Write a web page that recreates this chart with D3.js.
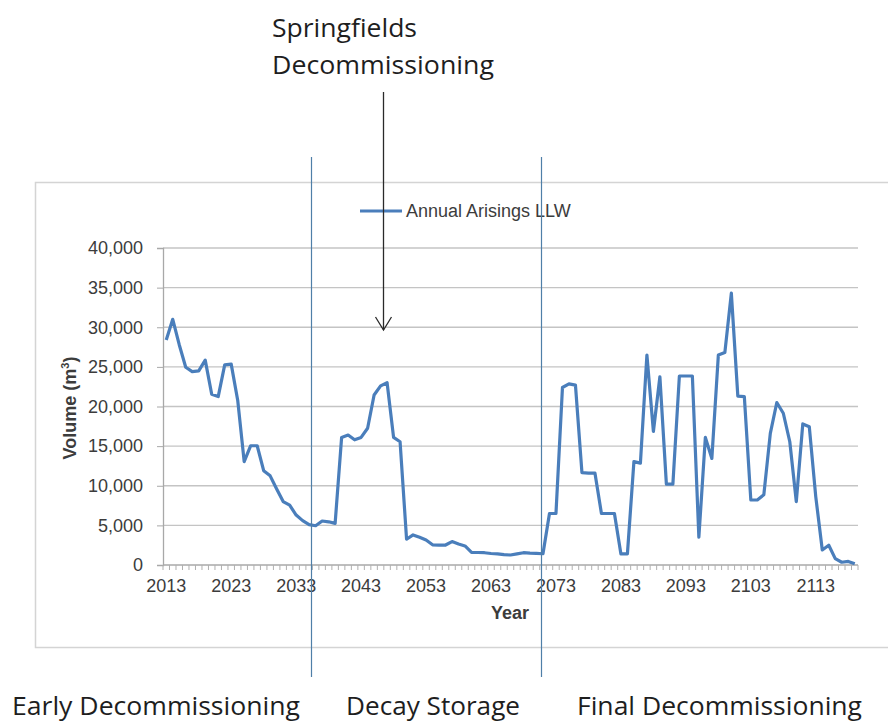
<!DOCTYPE html>
<html>
<head>
<meta charset="utf-8">
<script src="https://cdn.jsdelivr.net/npm/d3@7/dist/d3.min.js"></script>
<style>
  html, body { margin: 0; padding: 0; background: #fff; }
  svg { display: block; }
</style>
</head>
<body>
<svg id="chart" width="888" height="724"></svg>
<script>
// Annual arisings of low level waste (LLW), m³ per year
const years = d3.range(2013, 2120);
const volumes = [
  28400, 31000, 27800, 24950, 24400, 24500, 25850, 21550, 21250, 25250,
  25350, 20800, 13050, 15050, 15050, 11900, 11250, 9600, 8000, 7550,
  6300, 5600, 5100, 4950, 5550, 5450, 5250, 16100, 16400, 15800,
  16100, 17250, 21450, 22600, 23000, 16100, 15550, 3250, 3800, 3500,
  3150, 2550, 2520, 2520, 2950, 2650, 2400, 1600, 1580, 1550,
  1450, 1400, 1300, 1260, 1400, 1550, 1500, 1470, 1420, 6500,
  6500, 22400, 22850, 22700, 11650, 11600, 11600, 6500, 6500, 6500,
  1400, 1400, 13050, 12850, 26500, 16850, 23750, 10200, 10200, 23850,
  23850, 23850, 3500, 16100, 13450, 26500, 26800, 34300, 21300, 21250,
  8200, 8200, 8850, 16600, 20500, 19150, 15550, 8000, 17800, 17450,
  8600, 1900, 2500, 800, 350, 450, 150
];
const yTicks = [0, 5000, 10000, 15000, 20000, 25000, 30000, 35000, 40000];
const xLabelYears = [2013, 2023, 2033, 2043, 2053, 2063, 2073, 2083, 2093, 2103, 2113];
const seriesName = "Annual Arisings LLW";

// Phase boundaries (in years) and phase names
const phaseBounds = [2035.3, 2070.7];
const phaseLabels = ["Early Decommissioning", "Decay Storage", "Final Decommissioning"];
const eventYear = 2046.4;
const eventLabel = ["Springfields", "Decommissioning"];

const data = years.map((yr, i) => ({ year: yr, value: volumes[i] }));

const svg = d3.select("#chart");
const plot = { left: 163, right: 858, top: 248, bottom: 565 };

const x = d3.scaleBand().domain(years).range([plot.left, plot.right]).padding(0);
const bw = x.bandwidth();
const cx = yr => x(yr) + bw / 2;
const xYear = d3.scaleLinear()
  .domain([years[0], years[years.length - 1]])
  .range([cx(years[0]), cx(years[years.length - 1])]);
const y = d3.scaleLinear().domain([0, 40000]).range([plot.bottom, plot.top]);

const textCol = "#3c3c3c";
const axisFont = "Arial, 'Liberation Sans', sans-serif";

// Chart frame
svg.append("rect")
  .attr("x", 35.5).attr("y", 182.5)
  .attr("width", 900).attr("height", 465)
  .attr("fill", "#fff").attr("stroke", "#d4d4d4").attr("stroke-width", 1.5);

// Horizontal gridlines
svg.append("g").selectAll("line").data(yTicks.filter(d => d > 0)).join("line")
  .attr("x1", plot.left).attr("x2", plot.right)
  .attr("y1", d => y(d)).attr("y2", d => y(d))
  .attr("stroke", "#c4c4c4").attr("stroke-width", 1.3);

// Y axis
const yAxis = d3.axisLeft(y).tickValues(yTicks).tickSize(6).tickPadding(14)
  .tickFormat(d3.format(","));
const gy = svg.append("g").attr("transform", `translate(${plot.left},0)`).call(yAxis);
gy.select(".domain").attr("stroke", "#a8a8a8").attr("stroke-width", 1.3);
gy.selectAll(".tick line").attr("stroke", "#a8a8a8");
gy.selectAll(".tick text").attr("fill", textCol).attr("font-size", 18)
  .attr("font-family", axisFont);

// X axis: minor tick at every category boundary, labels every ten years
svg.append("line")
  .attr("x1", plot.left).attr("x2", plot.right)
  .attr("y1", plot.bottom).attr("y2", plot.bottom)
  .attr("stroke", "#a8a8a8").attr("stroke-width", 1.3);
svg.append("g").selectAll("line").data(years.map(d => x(d)).concat([plot.right])).join("line")
  .attr("x1", d => d).attr("x2", d => d)
  .attr("y1", plot.bottom).attr("y2", plot.bottom + 5)
  .attr("stroke", "#b0b0b0").attr("stroke-width", 1);
svg.append("g").selectAll("text").data(xLabelYears).join("text")
  .attr("x", d => cx(d)).attr("y", plot.bottom + 27)
  .attr("text-anchor", "middle")
  .attr("fill", textCol).attr("font-size", 18).attr("font-family", axisFont)
  .text(d => d);

// Axis titles
svg.append("text")
  .attr("x", 510).attr("y", 619)
  .attr("text-anchor", "middle")
  .attr("fill", textCol).attr("font-size", 18).attr("font-weight", "bold")
  .attr("font-family", axisFont).text("Year");
const yt = svg.append("text")
  .attr("transform", "translate(76,408) rotate(-90)")
  .attr("text-anchor", "middle")
  .attr("fill", textCol).attr("font-size", 18).attr("font-weight", "bold")
  .attr("font-family", axisFont);
yt.append("tspan").text("Volume (m");
yt.append("tspan").attr("font-size", 11).attr("dy", -7).text("3");
yt.append("tspan").attr("dy", 7).text(")");

// Series line
const line = d3.line().x(d => cx(d.year)).y(d => y(d.value));
svg.append("path").datum(data)
  .attr("d", line)
  .attr("fill", "none")
  .attr("stroke", "#4a7ebb")
  .attr("stroke-width", 3.2)
  .attr("stroke-linejoin", "round");

// Legend
svg.append("line")
  .attr("x1", 360).attr("x2", 402).attr("y1", 211).attr("y2", 211)
  .attr("stroke", "#4a7ebb").attr("stroke-width", 3.2);
svg.append("text")
  .attr("x", 406).attr("y", 217)
  .attr("fill", textCol).attr("font-size", 18).attr("font-family", axisFont)
  .text(seriesName);

// Phase boundaries
svg.append("g").selectAll("line").data(phaseBounds).join("line")
  .attr("x1", d => Math.round(xYear(d)) + 0.5).attr("x2", d => Math.round(xYear(d)) + 0.5)
  .attr("y1", 157).attr("y2", 677)
  .attr("stroke", "#4f7fa8").attr("stroke-width", 1.2);

// Phase names below the chart
const annFont = "'Open Sans', 'Noto Sans', sans-serif";
const phasePos = [{ x: 12, w: 288 }, { x: 346, w: 174 }, { x: 577, w: 285 }];
svg.append("g").selectAll("text").data(phaseLabels).join("text")
  .attr("x", (d, i) => phasePos[i].x).attr("y", 715)
  .attr("textLength", (d, i) => phasePos[i].w)
  .attr("lengthAdjust", "spacingAndGlyphs")
  .attr("fill", "#1e1e1e").attr("font-size", 25).attr("font-family", annFont)
  .text(d => d);

// Event annotation with arrow
const ex = Math.round(xYear(eventYear)) + 0.5;
const lbl = svg.append("g");
lbl.append("text").attr("x", 272).attr("y", 37)
  .attr("textLength", 145).attr("lengthAdjust", "spacingAndGlyphs")
  .attr("fill", "#1e1e1e").attr("font-size", 25).attr("font-family", annFont)
  .text(eventLabel[0]);
lbl.append("text").attr("x", 272).attr("y", 74)
  .attr("textLength", 222).attr("lengthAdjust", "spacingAndGlyphs")
  .attr("fill", "#1e1e1e").attr("font-size", 25).attr("font-family", annFont)
  .text(eventLabel[1]);
svg.append("line")
  .attr("x1", ex).attr("x2", ex).attr("y1", 92).attr("y2", 330)
  .attr("stroke", "#2a2a2a").attr("stroke-width", 1.3);
svg.append("path")
  .attr("d", `M${ex - 8},${317} L${ex},${330} L${ex + 8},${317}`)
  .attr("fill", "none").attr("stroke", "#2a2a2a").attr("stroke-width", 1.3);
</script>
</body>
</html>
